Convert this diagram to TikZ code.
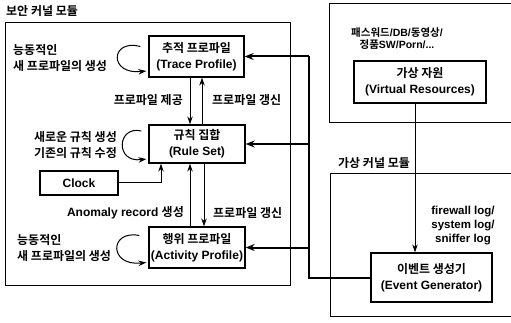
\documentclass[tikz,border=0pt]{standalone}
\usepackage{fontspec}
\setmainfont{Liberation Sans}
\newfontfamily\krfont{Noto Sans CJK KR}[BoldFont={Noto Sans CJK KR Bold}]
\newcommand\hg[1]{{\krfont #1}}
\usetikzlibrary{arrows.meta}
\begin{document}
\begin{tikzpicture}[x=1pt,y=-1pt,
  font=\fontsize{12}{16}\selectfont\bfseries,
  box/.style={draw, line width=1.3pt, align=center, inner sep=0pt},
  frame/.style={line width=0.8pt},
  arr/.style={-{Stealth[length=8pt,width=5.5pt]}, line width=1pt},
  bus/.style={line width=2pt},
  busarr/.style={bus, -{Stealth[length=9pt,width=7pt]}},
  lbl/.style={inner sep=0pt, align=left},
  small/.style={font=\fontsize{10.5}{12}\selectfont\bfseries, inner sep=0pt, align=center}]
\useasboundingbox (0,0) rectangle (511,323);
% frames
\draw[frame] (5,22) rectangle (290,285);
\draw[frame] (515,3) -- (329,3) -- (329,122) -- (515,122);
\draw[frame] (515,173) -- (330,173) -- (330,316) -- (515,316);
% boxes
\node[box, minimum width=95pt, minimum height=41pt] (trace) at (196.5,56.5) {\hg{추적 프로파일}\\(Trace Profile)};
\node[box, minimum width=96pt, minimum height=38pt] (rule) at (197,144) {\hg{규칙 집합}\\(Rule Set)};
\node[box, minimum width=96pt, minimum height=41pt] (act) at (197,247.5) {\hg{행위 프로파일}\\(Activity Profile)};
\node[box, minimum width=78pt, minimum height=24pt] (clock) at (79,183) {Clock};
\node[box, minimum width=132pt, minimum height=42pt] (vr) at (420,82) {\hg{가상 자원}\\(Virtual Resources)};
\node[box, minimum width=121pt, minimum height=49pt] (eg) at (431.5,277.5) {\hg{이벤트 생성기}\\(Event Generator)};
% titles
\node[anchor=west, inner sep=0pt] (secl) at (6,11) {\hg{보안 커널 모듈}};
\node[inner sep=0pt] (vkl) at (374,163) {\hg{가상 커널 모듈}};
\node[small] (res) at (397,39) {\hg{패스워드}/DB/\hg{동영상}/\\\hg{정품}SW/Porn/...};
\node[small, font=\fontsize{11.5}{14}\selectfont\bfseries] (logs) at (463,226) {firewall log/\\system log/\\sniffer log};
% loop labels
\node[lbl, anchor=west] (l1) at (13,58.5) {\hg{능동적인}\\\hg{새 프로파일의 생성}};
\node[lbl, align=right, anchor=east] (l2) at (117,145) {\hg{새로운 규칙 생성}\\\hg{기존의 규칙 수정}};
\node[lbl, anchor=west] (l3) at (17,248.5) {\hg{능동적인}\\\hg{새 프로파일의 생성}};
% arrow labels
\node[anchor=east, inner sep=0pt] (p1) at (183,100) {\hg{프로파일 제공}};
\node[anchor=west, inner sep=0pt] (p2) at (212,100) {\hg{프로파일 갱신}};
\node[anchor=east, inner sep=0pt] (p3) at (184,213) {Anomaly record \hg{생성}};
\node[anchor=west, inner sep=0pt] (p4) at (213,213) {\hg{프로파일 갱신}};
% vertical arrows
\coordinate (xa) at (190,0);
\coordinate (xb) at (202,0);
\coordinate (xc) at (204,0);
\coordinate (xk) at (161,0);
\draw[arr] (trace.south -| xa) -- (rule.north -| xa);
\draw[arr] (rule.north -| xb) -- (trace.south -| xb);
\draw[arr] (act.north -| xa) -- (rule.south -| xa);
\draw[arr] (rule.south -| xc) -- (act.north -| xc);
\draw[arr] (clock.east) -| (rule.south -| xk);
% self loops
\draw[arr] ([shift={(-8,-10)}]trace.west) .. controls +(-30,-8) and +(-38,4) .. ([shift={(-2,14.5)}]trace.west);
\draw[arr] ([shift={(-7,-13)}]rule.west) .. controls +(-24,-6) and +(-32,4) .. ([shift={(-2,15)}]rule.west);
\draw[arr] ([shift={(-9,-12)}]act.west) .. controls +(-30,-6) and +(-38,4) .. ([shift={(-2,15)}]act.west);
% bus
\coordinate (busx) at (309,0);
\draw[bus] (eg.west) -| (trace.east -| busx);
\draw[busarr] (trace.east -| busx) -- (trace.east);
\draw[busarr] (rule.east -| busx) -- (rule.east);
\draw[busarr] (act.east -| busx) -- (act.east);
% log arrow
\coordinate (logx) at (415,0);
\draw[arr, line width=0.8pt] (vr.south -| logx) -- (eg.north -| logx);
\end{tikzpicture}
\end{document}
